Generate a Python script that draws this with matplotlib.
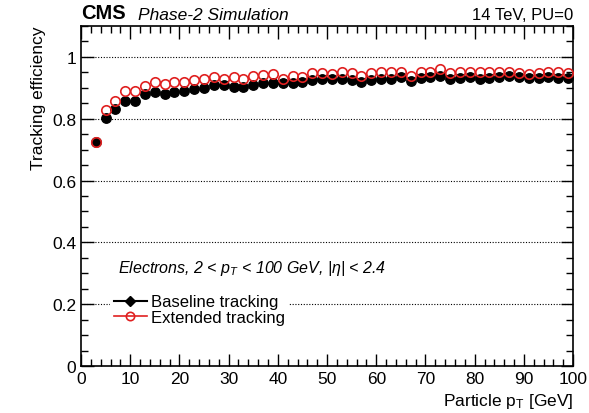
import numpy as np
import matplotlib.pyplot as plt
from matplotlib.ticker import MultipleLocator
from matplotlib.lines import Line2D

plt.rcParams['font.family'] = ['Liberation Sans', 'DejaVu Sans']
plt.rcParams['mathtext.fontset'] = 'custom'
plt.rcParams['mathtext.rm'] = 'Liberation Sans'
plt.rcParams['mathtext.it'] = 'Liberation Sans:italic'

pt = np.arange(3, 100, 2)

baseline = [0.724, 0.803, 0.831, 0.856, 0.856, 0.880, 0.885, 0.880, 0.886, 0.890,
            0.896, 0.899, 0.910, 0.910, 0.904, 0.904, 0.910, 0.915, 0.915, 0.915,
            0.915, 0.917, 0.926, 0.928, 0.928, 0.928, 0.926, 0.918, 0.926, 0.928,
            0.928, 0.934, 0.921, 0.931, 0.934, 0.939, 0.929, 0.931, 0.934, 0.928,
            0.931, 0.936, 0.938, 0.936, 0.931, 0.931, 0.934, 0.931, 0.931]

extended = [0.724, 0.829, 0.856, 0.888, 0.888, 0.906, 0.917, 0.912, 0.920, 0.920,
            0.926, 0.929, 0.936, 0.929, 0.936, 0.929, 0.937, 0.941, 0.945, 0.929,
            0.937, 0.936, 0.947, 0.947, 0.945, 0.950, 0.947, 0.939, 0.947, 0.950,
            0.950, 0.950, 0.939, 0.950, 0.952, 0.960, 0.947, 0.950, 0.950, 0.952,
            0.952, 0.952, 0.952, 0.949, 0.945, 0.947, 0.950, 0.950, 0.949]

red = '#e02020'

fig = plt.figure(figsize=(5.89, 4.14), dpi=100)
ax = fig.add_axes([0.1375, 0.1135, 0.8355, 0.8215])

ax.plot(pt, baseline, 'o', color='black', ms=6.8, mec='black', zorder=3)
ax.plot(pt, extended, 'o', color=red, ms=6.8, mfc='none', mew=1.2, zorder=4)

ax.set_xlim(0, 100)
ax.set_ylim(0, 1.1)
ax.xaxis.set_major_locator(MultipleLocator(10))
ax.xaxis.set_minor_locator(MultipleLocator(2))
ax.yaxis.set_minor_locator(MultipleLocator(0.05))
ax.set_yticks([0, 0.2, 0.4, 0.6, 0.8, 1.0])
ax.set_yticklabels(['0', '0.2', '0.4', '0.6', '0.8', '1'])
ax.tick_params(which='both', direction='in', top=True, right=True, labelsize=12.5)
ax.tick_params(which='major', length=9, width=1)
ax.tick_params(which='minor', length=5, width=1)
for s in ax.spines.values():
    s.set_linewidth(1.2)

for y in [0.2, 0.4, 0.6, 0.8, 1.0]:
    ax.axhline(y, color='black', ls=(0, (1, 1.5)), lw=0.8, zorder=1)

ax.set_ylabel('Tracking efficiency', fontsize=12.5, loc='top')
ax.set_xlabel(r'Particle p$_{\rm T}$ [GeV]', fontsize=12.5, loc='right')

ax.text(0.0, 1.012, 'CMS', transform=ax.transAxes, fontsize=14.5,
        fontweight='bold', ha='left', va='bottom')
ax.text(0.115, 1.012, 'Phase-2 Simulation', transform=ax.transAxes,
        fontsize=12.5, style='italic', ha='left', va='bottom')
ax.text(1.0, 1.012, '14 TeV, PU=0', transform=ax.transAxes, fontsize=12,
        ha='right', va='bottom')

ax.text(7.5, 0.305, r'Electrons, 2 < $p_{T}$ < 100 GeV, |$\eta$| < 2.4',
        fontsize=11.5, style='italic')

handles = [
    Line2D([], [], color='black', lw=1.5, marker='D', ms=5, mfc='black'),
    Line2D([], [], color=red, lw=1.2, marker='o', ms=6, mfc='none', mew=1.2),
]
leg = ax.legend(handles, ['Baseline tracking', 'Extended tracking'],
                loc='upper left', bbox_to_anchor=(0.043, 0.245), frameon=True,
                fontsize=12, handlelength=2.0, handletextpad=0.25,
                labelspacing=0.05, borderpad=0.2)
leg.get_frame().set_edgecolor('none')
leg.get_frame().set_facecolor('white')
leg.get_frame().set_alpha(1)
leg.get_frame().set_boxstyle('square', pad=0.0)

fig.savefig('out.png', dpi=100)
